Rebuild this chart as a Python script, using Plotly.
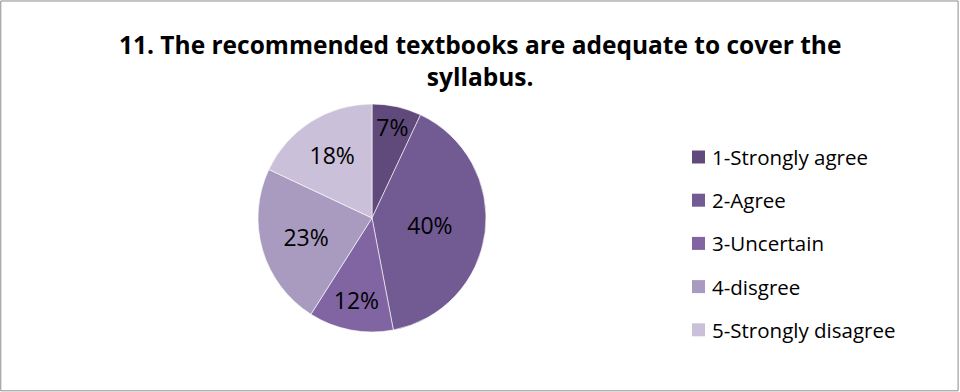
import plotly.graph_objects as go

categories = ["1-Strongly agree", "2-Agree", "3-Uncertain", "4-disgree", "5-Strongly disagree"]
values = [7, 40, 12, 23, 18]
colors = ["#604A7B", "#725A92", "#8065A2", "#A99BC0", "#CAC0D9"]
title_text = "11. The recommended textbooks are adequate to cover the<br>syllabus."

W, H = 960, 392
cx, cy, r = 372, 218, 114
FONT = "Open Sans, Lato, sans-serif"

fig = go.Figure(go.Pie(
    labels=categories,
    values=values,
    sort=False,
    direction="clockwise",
    rotation=0,
    marker=dict(colors=colors, line=dict(color="#FFFFFF", width=0.6)),
    texttemplate="%{percent:.0%}",
    textposition="inside",
    insidetextorientation="horizontal",
    textfont=dict(family=FONT, size=23, color="#000000"),
    domain=dict(x=[(cx - r) / W, (cx + r) / W], y=[(H - cy - r) / H, (H - cy + r) / H]),
    showlegend=False,
    hoverinfo="label+percent",
))

shapes = [dict(type="rect", xref="paper", yref="paper", x0=0.0008, y0=0.003, x1=0.998, y1=0.9975,
               line=dict(color="#8C8C8C", width=1), fillcolor="rgba(0,0,0,0)")]
annotations = [dict(text="<b>" + title_text + "</b>", x=0.5, y=1 - 26 / H, xref="paper", yref="paper",
                    xanchor="center", yanchor="top", showarrow=False,
                    font=dict(family=FONT, size=24.5, color="#000000"))]

leg_y0, leg_dy = 157, 43.2
for i, (lab, col) in enumerate(zip(categories, colors)):
    yc = leg_y0 + i * leg_dy
    shapes.append(dict(type="rect", xref="paper", yref="paper",
                       x0=692 / W, x1=705 / W, y0=1 - (yc + 6.5) / H, y1=1 - (yc - 6.5) / H,
                       line=dict(width=0), fillcolor=col))
    annotations.append(dict(text=lab, x=710 / W, y=1 - yc / H, xref="paper", yref="paper",
                            xanchor="left", yanchor="middle", showarrow=False,
                            font=dict(family=FONT, size=20.5, color="#000000")))

fig.update_layout(
    width=W, height=H,
    margin=dict(l=0, r=0, t=0, b=0),
    paper_bgcolor="#FFFFFF",
    plot_bgcolor="#FFFFFF",
    uniformtext=dict(mode="show", minsize=23),
    shapes=shapes,
    annotations=annotations,
)

fig.write_html("out.html")
